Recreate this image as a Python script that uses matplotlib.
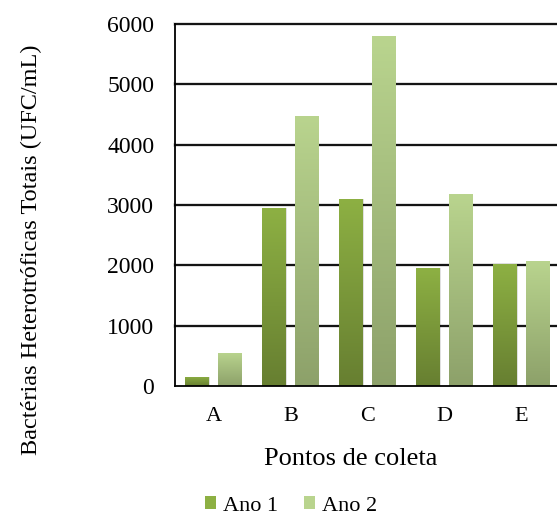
import numpy as np
import matplotlib
matplotlib.use("Agg")
import matplotlib.pyplot as plt
from matplotlib.colors import LinearSegmentedColormap
from matplotlib.patches import Rectangle

# Contagem de bactérias heterotróficas por ponto de coleta
pontos = ["A", "B", "C", "D", "E"]
ano1 = [150, 2950, 3100, 1950, 2020]
ano2 = [550, 4480, 5800, 3180, 2080]
yticks = [0, 1000, 2000, 3000, 4000, 5000, 6000]

# gradiente de cada série: (topo, base)
grad = {
    "Ano 1": ("#8db043", "#677f31"),
    "Ano 2": ("#b9d48e", "#8da16a"),
}

W, H, dpi = 557, 522, 100
fig = plt.figure(figsize=(W / dpi, H / dpi), dpi=dpi)
ax = fig.add_axes([175 / W, 136 / H, 385 / W, 362 / H])

fonte = "Liberation Serif"

# linhas de grade pretas com leve sombra
for v in yticks[1:]:
    ax.axhline(v, color="#bbbbbb", lw=2.6, zorder=1, alpha=0.6, clip_on=False)
    ax.axhline(v, color="black", lw=1.3, zorder=1.5, clip_on=False)

x = np.arange(len(pontos))
bw = 0.31
off = 0.209


def gradient_bars(xs, vals, name):
    top, bot = grad[name]
    cmap = LinearSegmentedColormap.from_list(name, [bot, top])
    bars = ax.bar(xs, vals, width=bw, color=top, zorder=3, label=name,
                  edgecolor="none")
    for b in bars:
        bx, by = b.get_x(), b.get_y()
        bwid, bh = b.get_width(), b.get_height()
        # sombra suave à direita
        ax.add_patch(Rectangle((bx + 0.012, by), bwid, bh, facecolor="#000000",
                               alpha=0.12, edgecolor="none", zorder=2.5))
        img = np.linspace(0, 1, 100).reshape(-1, 1)
        im = ax.imshow(img, cmap=cmap, origin="lower", aspect="auto",
                       extent=(bx, bx + bwid, by, by + bh), zorder=3.2)
        im.set_clip_path(b)
    return bars


gradient_bars(x - off, ano1, "Ano 1")
gradient_bars(x + off, ano2, "Ano 2")
ax.set_xlim(-0.5, 4.5)
ax.set_ylim(0, 6000)

for s in ["top", "right"]:
    ax.spines[s].set_visible(False)
for s in ["left", "bottom"]:
    ax.spines[s].set_color("black")
    ax.spines[s].set_linewidth(1.3)
    ax.spines[s].set_zorder(4)

ax.set_xticks(x)
ax.set_xticklabels(pontos, fontsize=16, family=fonte)
ax.set_yticks(yticks)
ax.set_yticklabels([str(v) for v in yticks], fontsize=17, family=fonte)
ax.tick_params(length=0)
ax.tick_params(axis="x", pad=15)
ax.tick_params(axis="y", pad=15)

fig.text(31 / W, 1 - 250 / H, "Bactérias Heterotróficas Totais (UFC/mL)",
         rotation=90, ha="center", va="center", fontsize=17.5, family=fonte)
fig.text(351 / W, 1 - 459 / H, "Pontos de coleta", ha="center", va="center",
         fontsize=19, family=fonte)

handles = [Rectangle((0, 0), 1, 1, facecolor=grad[k][0]) for k in grad]
fig.legend(handles, list(grad.keys()), loc="center", bbox_to_anchor=(291 / W, 1 - 506 / H),
           ncol=2, frameon=False, handlelength=0.5, handleheight=0.5,
           handletextpad=0.3, columnspacing=1.2,
           prop={"family": fonte, "size": 16})

fig.savefig("out.png", dpi=dpi)
